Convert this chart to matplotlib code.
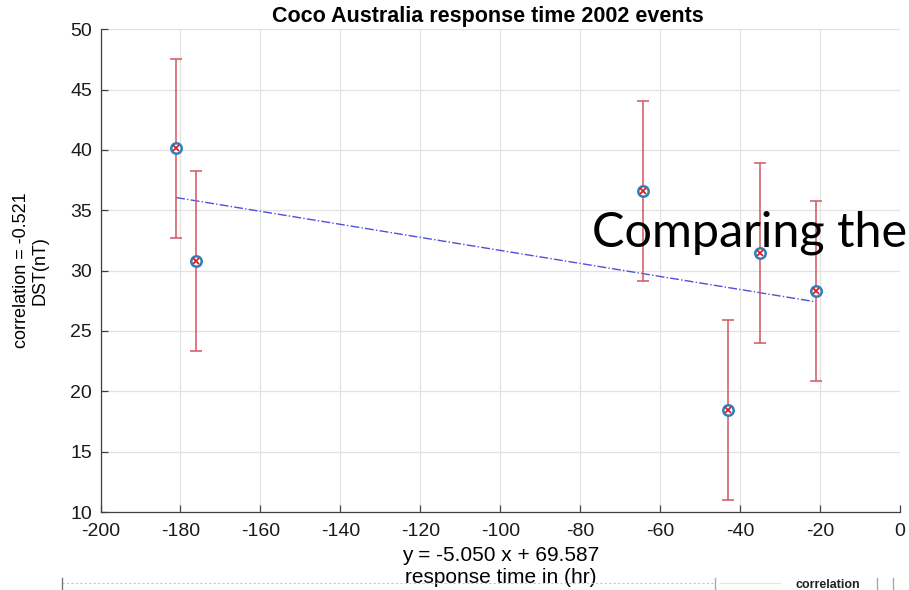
import numpy as np
import matplotlib
matplotlib.use("Agg")
import matplotlib.pyplot as plt

# ---- data ----
resp_time = [-181.1, -176.0, -64.3, -43.0, -35.1, -21.1]
dst = [40.13, 30.80, 36.62, 18.45, 31.46, 28.33]
dst_err = [7.45, 7.45, 7.45, 7.45, 7.45, 7.45]
xticks = list(range(-200, 1, 20))
yticks = list(range(10, 51, 5))
title = "Coco Australia response time 2002 events"
ylabel = "correlation = -0.521\nDST(nT)"
xlabel = "y = -5.050 x + 69.587\nresponse time in (hr)"
overlay = "Comparing the"

plt.rcParams['font.family'] = ['Liberation Sans', 'DejaVu Sans']
plt.rcParams['axes.unicode_minus'] = False

fig = plt.figure(figsize=(9.09, 5.90), dpi=100)
ax = fig.add_axes([0.1106, 0.1322, 0.8795, 0.8181])

# fit line
coef = np.polyfit(resp_time, dst, 1)
xf = np.array([min(resp_time), max(resp_time)])
ax.plot(xf, np.polyval(coef, xf), color='#5050d8', lw=1.0, ls='-.', zorder=2)

ax.errorbar(resp_time, dst, yerr=dst_err, fmt='none', ecolor='#d3555f',
            elinewidth=1.1, capsize=4.5, capthick=1.1, zorder=3)
ax.plot(resp_time, dst, ls='none', marker='o', ms=7.5, mfc='white',
        mec='#2f7fb8', mew=1.8, zorder=4)
ax.plot(resp_time, dst, ls='none', marker='x', ms=4.5, mec='#e02020',
        mew=1.3, zorder=5)

ax.set_xlim(-200, 0)
ax.set_ylim(10, 50)
ax.set_xticks(xticks)
ax.set_yticks(yticks)
ax.grid(True, color='#e2e2e2', lw=0.9)
ax.set_axisbelow(True)
for s in ['top', 'right']:
    ax.spines[s].set_visible(False)
for s in ['left', 'bottom']:
    ax.spines[s].set_color('#404040')
    ax.spines[s].set_linewidth(0.9)
ax.tick_params(direction='in', length=5, width=0.9, color='#404040',
               labelsize=14, labelcolor='#1a1a1a')
ax.tick_params(axis='x', pad=8)
ax.tick_params(axis='y', pad=6)

ax.set_title(title, fontsize=15.5, fontweight='bold', pad=5, x=0.485)
ax.set_ylabel(ylabel, fontsize=13, labelpad=16, linespacing=1.05)
ax.set_xlabel(xlabel, fontsize=15, labelpad=4, linespacing=1.2)

# overlay slide text
fig.text(592 / 909, 1 - 247 / 590, overlay, fontsize=35,
         family=['Lato', 'DejaVu Sans'], color='black', va='baseline', ha='left')

# bottom strip remnant
fig.add_artist(plt.Line2D([62 / 909, 715 / 909], [1 - 583 / 590] * 2,
                          color='#c8c8c8', lw=0.8, ls=(0, (2, 2))))
for xp in [62, 715, 877, 893]:
    fig.add_artist(plt.Line2D([xp / 909] * 2, [0, 1 - 578 / 590],
                              color='#777777' if xp == 62 else '#aaaaaa', lw=1.0))
fig.add_artist(plt.Line2D([720 / 909, 780 / 909], [1 - 583 / 590] * 2,
                          color='#d8eed8', lw=0.8))
fig.text(828 / 909, 1 - 588 / 590, "correlation", fontsize=9, fontweight='bold',
         ha='center', va='baseline', color='#222222')

fig.savefig("out.png", dpi=100)
